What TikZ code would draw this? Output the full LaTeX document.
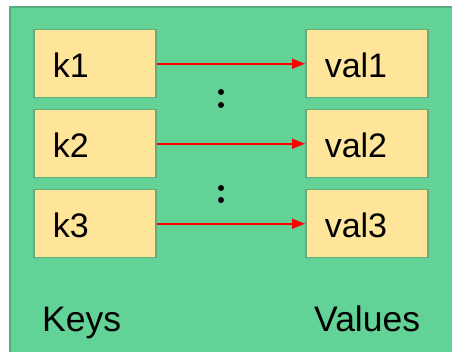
\documentclass[tikz,border=0pt]{standalone}
\usepackage{fontspec}
\setmainfont{Liberation Sans}
\usetikzlibrary{arrows.meta}
\definecolor{panelgreen}{HTML}{63D297}
\definecolor{paneledge}{HTML}{55AE7B}
\definecolor{cellfill}{HTML}{FFE599}
\definecolor{celledge}{HTML}{68A97A}
\definecolor{linkred}{HTML}{FF0000}
\tikzset{
  cell/.style={draw=celledge, line width=1.5pt, fill=cellfill, anchor=north west,
    minimum width=122pt, minimum height=68pt, inner xsep=19pt, inner ysep=0pt,
    text width=84pt, align=left, text height=28pt, text depth=0pt,
    font=\fontsize{34}{34}\selectfont},
  maparrow/.style={color=linkred, line width=1.6pt,
    -{Triangle[length=13pt,width=10pt]}},
  caption/.style={anchor=base west, inner sep=0pt, font=\fontsize{35.5}{35.5}\selectfont},
  dot/.style={fill=black, draw=none}
}
\begin{document}
\begin{tikzpicture}[x=1pt, y=-1pt]
  \useasboundingbox (0,0) rectangle (452,352);
  % background panel
  \fill[white] (0,0) rectangle (452,352);
  \draw[panelgreen, fill=panelgreen] (10,7) rectangle (470,370);
  \draw[paneledge, line width=2pt] (10,372) -- (10,7) -- (470,7);

  % key column
  \node[cell] (k1) at (33,29) {k1};
  \node[cell] (k2) at (33,109) {k2};
  \node[cell] (k3) at (33,189) {k3};

  % value column
  \node[cell] (v1) at (305,29) {val1};
  \node[cell] (v2) at (305,109) {val2};
  \node[cell] (v3) at (305,189) {val3};

  % mappings
  \draw[maparrow] (k1) -- (v1);
  \draw[maparrow] (k2) -- (v2);
  \draw[maparrow] (k3) -- (v3);

  % vertical ellipses between rows
  \fill[dot] (221,92) circle (3);
  \fill[dot] (221,105) circle (3);
  \fill[dot] (221,188) circle (3);
  \fill[dot] (221,200) circle (3);

  % column captions
  \node[caption] (keys) at (42,331) {Keys};
  \node[caption] (vals) at (314,331) {Values};
\end{tikzpicture}
\end{document}
